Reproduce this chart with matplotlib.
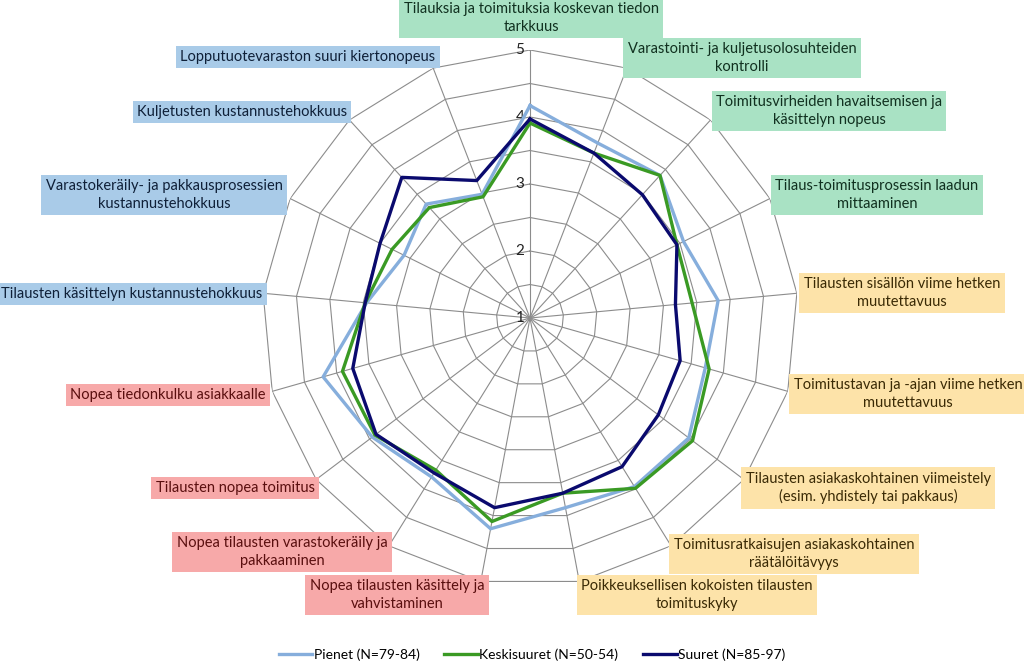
import numpy as np
import matplotlib
matplotlib.use('Agg')
import matplotlib.pyplot as plt

plt.rcParams['font.family'] = ['Lato', 'DejaVu Sans']

#----- data
categories = [
    'Tilauksia ja toimituksia koskevan tiedon\ntarkkuus',
    'Varastointi- ja kuljetusolosuhteiden\nkontrolli',
    'Toimitusvirheiden havaitsemisen ja\nkäsittelyn nopeus',
    'Tilaus-toimitusprosessin laadun\nmittaaminen',
    'Tilausten sisällön viime hetken\nmuutettavuus',
    'Toimitustavan ja -ajan viime hetken\nmuutettavuus',
    'Tilausten asiakaskohtainen viimeistely\n(esim. yhdistely tai pakkaus)',
    'Toimitusratkaisujen asiakaskohtainen\nräätälöitävyys',
    'Poikkeuksellisen kokoisten tilausten\ntoimituskyky',
    'Nopea tilausten käsittely ja\nvahvistaminen',
    'Nopea tilausten varastokeräily ja\npakkaaminen',
    'Tilausten nopea toimitus',
    'Nopea tiedonkulku asiakkaalle',
    'Tilausten käsittelyn kustannustehokkuus',
    'Varastokeräily- ja pakkausprosessien\nkustannustehokkuus',
    'Kuljetusten kustannustehokkuus',
    'Lopputuotevaraston suuri kiertonopeus',
]
groups = ['g', 'g', 'g', 'g', 'y', 'y', 'y', 'y', 'y',
          'r', 'r', 'r', 'r', 'b', 'b', 'b', 'b']

pienet = [4.17, 3.80, 3.88, 3.56, 3.82, 3.72, 3.97, 3.96, 3.88,
          4.20, 3.79, 3.95, 4.21, 3.45, 3.10, 3.30, 2.98]
keskisuuret = [3.91, 3.64, 3.88, 3.45, 3.43, 3.78, 4.04, 3.99, 3.66,
               4.09, 3.67, 3.90, 3.91, 3.47, 3.30, 3.23, 2.94]
suuret = [3.97, 3.64, 3.49, 3.45, 3.18, 3.33, 3.40, 3.61, 3.66,
          3.88, 3.72, 3.88, 3.75, 3.47, 3.50, 3.84, 3.20]

series_names = ['Pienet (N=79-84)', 'Keskisuuret (N=50-54)', 'Suuret (N=85-97)']
ring_ticks = [1, 2, 3, 4, 5]

#----- layout / style
W, H = 1024, 665
box_fc = {'g': '#a9e2c4', 'y': '#fde3a9', 'r': '#f7a9a9', 'b': '#a9cbe8'}
box_tc = {'g': '#10301f', 'y': '#3a2a05', 'r': '#5a0f0f', 'b': '#0f2038'}
# label box centres in pixels (x, y from top)
label_xy = [(531, 18), (742, 58), (829, 111), (877, 195), (902, 293),
            (908, 394), (868, 488), (794, 554), (697, 595), (397, 595),
            (282, 552), (235, 488), (168, 395), (132, 294), (164, 195),
            (242, 112), (308, 57)]

n = len(categories)
theta = np.arange(n) * 2 * np.pi / n
theta_c = np.append(theta, theta[0])

fig = plt.figure(figsize=(W / 100, H / 100), dpi=100)
cx, cy, R = 530, 318, 268
ax = fig.add_axes([(cx - R) / W, (H - cy - R) / H, 2 * R / W, 2 * R / H],
                  projection='polar')
ax.set_theta_zero_location('N')
ax.set_theta_direction(-1)
ax.set_ylim(1, 5)
ax.grid(False)
ax.spines['polar'].set_visible(False)
ax.set_xticks([])
ax.set_yticks([])
ax.patch.set_alpha(0)

#----- polygon grid
for r in np.arange(1.5, 5.01, 0.5):
    ax.plot(theta_c, np.full(n + 1, r), color='#8c8c8c', lw=0.8, zorder=1)
for t in theta:
    ax.plot([t, t], [1, 5], color='#8c8c8c', lw=0.8, zorder=1)
for v in ring_ticks:
    ax.annotate(str(v), xy=(0, v), xytext=(-4, 0), textcoords='offset points',
                ha='right', va='center', fontsize=11, color='#222222')

#----- series
colors = ['#86aedc', '#3a9a24', '#0a0a6e']
for vals, name, c in zip([pienet, keskisuuret, suuret], series_names, colors):
    ax.plot(theta_c, np.append(vals, vals[0]), color=c, lw=2.4, label=name,
            zorder=3)

#----- category labels
for txt, g, (x, y) in zip(categories, groups, label_xy):
    fig.text(x / W, 1 - y / H, txt, ha='center', va='center',
             multialignment='center', fontsize=10.5, color=box_tc[g],
             linespacing=1.3,
             bbox=dict(boxstyle='square,pad=0.3', fc=box_fc[g], ec='none'))

fig.legend(loc='center', bbox_to_anchor=(532 / W, 1 - 655 / H), ncol=3,
           frameon=False, fontsize=10, handlelength=2.4, handletextpad=0.1,
           columnspacing=1.8)

plt.savefig('out.png', dpi=100)
